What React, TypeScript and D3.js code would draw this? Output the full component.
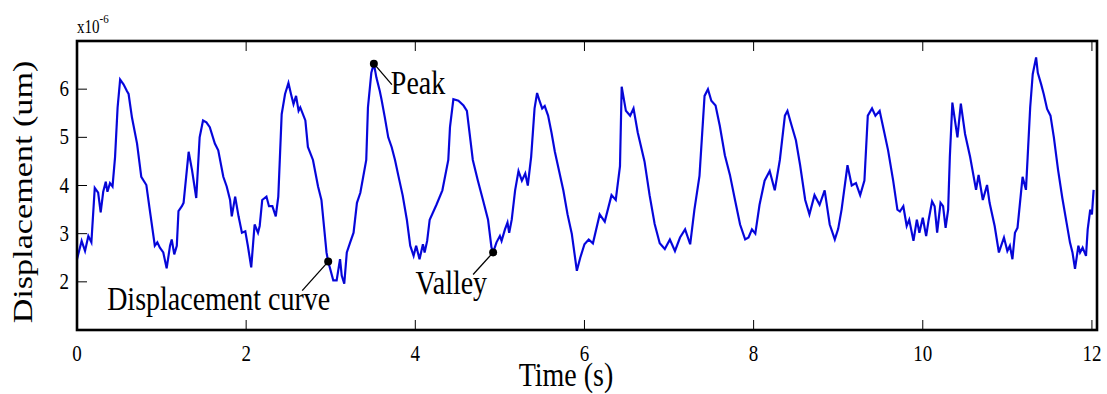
import { useRef, useEffect } from "react";
import * as d3 from "d3";

// time (s) and displacement (x10^-6 um)
const times = [
  0.0, 0.055, 0.095, 0.134, 0.17, 0.21, 0.25, 0.28, 0.31, 0.34, 0.36, 0.39, 0.42, 0.45, 0.48, 0.51, 0.55, 0.59, 0.61, 0.65,
  0.71, 0.76, 0.82, 0.86, 0.92, 0.95, 0.98, 1.02, 1.06, 1.1, 1.12, 1.15, 1.18, 1.2, 1.24, 1.26, 1.32, 1.36, 1.41, 1.45,
  1.49, 1.53, 1.57, 1.63, 1.67, 1.73, 1.77, 1.81, 1.83, 1.87, 1.91, 1.95, 1.99, 2.02, 2.06, 2.1, 2.14, 2.16, 2.19, 2.24,
  2.27, 2.31, 2.35, 2.38, 2.42, 2.46, 2.5, 2.53, 2.56, 2.59, 2.62, 2.64, 2.7, 2.73, 2.79, 2.85, 2.89, 2.95, 2.97, 3.03,
  3.07, 3.11, 3.13, 3.16, 3.19, 3.23, 3.27, 3.31, 3.35, 3.42, 3.44, 3.48, 3.51, 3.54, 3.58, 3.6, 3.64, 3.68, 3.72, 3.76,
  3.8, 3.85, 3.9, 3.94, 3.98, 4.01, 4.05, 4.09, 4.11, 4.14, 4.17, 4.25, 4.32, 4.39, 4.41, 4.45, 4.51, 4.57, 4.61, 4.68,
  4.74, 4.8, 4.86, 4.9, 4.92, 4.96, 5.0, 5.02, 5.06, 5.09, 5.11, 5.14, 5.18, 5.22, 5.26, 5.3, 5.33, 5.37, 5.41, 5.44,
  5.47, 5.5, 5.53, 5.57, 5.61, 5.65, 5.7, 5.75, 5.8, 5.85, 5.91, 5.95, 6.0, 6.05, 6.1, 6.18, 6.24, 6.32, 6.37, 6.42,
  6.44, 6.49, 6.54, 6.58, 6.63, 6.71, 6.77, 6.83, 6.89, 6.95, 7.01, 7.07, 7.13, 7.19, 7.25, 7.3, 7.36, 7.42, 7.46, 7.5,
  7.55, 7.6, 7.66, 7.72, 7.78, 7.84, 7.9, 7.94, 7.98, 8.02, 8.07, 8.13, 8.19, 8.25, 8.31, 8.37, 8.4, 8.45, 8.5, 8.55,
  8.61, 8.66, 8.72, 8.78, 8.84, 8.9, 8.96, 9.0, 9.04, 9.11, 9.16, 9.21, 9.26, 9.31, 9.35, 9.4, 9.44, 9.49, 9.54, 9.59,
  9.65, 9.7, 9.73, 9.77, 9.81, 9.84, 9.89, 9.93, 9.96, 10.0, 10.04, 10.07, 10.11, 10.14, 10.17, 10.21, 10.24, 10.27, 10.3, 10.32,
  10.35, 10.41, 10.45, 10.5, 10.56, 10.63, 10.66, 10.71, 10.76, 10.79, 10.85, 10.9, 10.96, 11.0, 11.03, 11.06, 11.09, 11.12, 11.18, 11.22,
  11.24, 11.27, 11.3, 11.34, 11.36, 11.4, 11.43, 11.47, 11.51, 11.55, 11.6, 11.65, 11.7, 11.74, 11.77, 11.8, 11.84, 11.86, 11.89, 11.93,
  11.95, 11.98, 12.0, 12.02,
];
const displacement = [
  2.47, 2.85, 2.64, 2.95, 2.82, 3.95, 3.85, 3.44, 3.87, 4.08, 3.87, 4.05, 3.98, 4.59, 5.62, 6.2, 6.1, 5.96, 5.9, 5.41,
  4.87, 4.18, 4.01, 3.5, 2.75, 2.82, 2.71, 2.61, 2.28, 2.75, 2.88, 2.57, 2.75, 3.47, 3.57, 3.64, 4.7, 4.32, 3.74, 5.0,
  5.35, 5.31, 5.21, 4.87, 4.73, 4.18, 3.98, 3.7, 3.36, 3.77, 3.36, 3.02, 3.05, 2.75, 2.3, 3.19, 3.02, 3.16, 3.7, 3.77,
  3.57, 3.57, 3.36, 3.77, 5.48, 5.9, 6.13, 5.9, 5.69, 5.86, 5.55, 5.62, 5.35, 4.8, 4.53, 3.98, 3.7, 2.61, 2.42, 2.03,
  2.03, 2.47, 2.13, 1.96, 2.61, 2.82, 3.02, 3.64, 3.85, 4.53, 5.62, 6.34, 6.53, 6.24, 5.96, 5.79, 5.41, 5.0, 4.8, 4.53,
  4.2, 3.8, 3.29, 2.75, 2.54, 2.75, 2.47, 2.78, 2.61, 2.85, 3.29, 3.6, 3.9, 4.53, 5.21, 5.79, 5.76, 5.66, 5.55, 4.53,
  4.1, 3.7, 3.29, 2.72, 2.61, 2.82, 2.95, 2.85, 3.09, 3.23, 3.02, 3.29, 3.9, 4.3, 4.1, 4.25, 4.0, 4.6, 5.6, 5.92,
  5.75, 5.6, 5.65, 5.45, 5.1, 4.7, 4.3, 3.9, 3.4, 3.0, 2.23, 2.5, 2.78, 2.88, 2.8, 3.4, 3.25, 3.8, 3.7, 4.4,
  6.05, 5.55, 5.45, 5.6, 5.1, 4.5, 3.8, 3.2, 2.8, 2.68, 2.88, 2.64, 2.92, 3.09, 2.78, 3.5, 4.2, 5.86, 6.0, 5.76,
  5.66, 5.24, 4.63, 4.22, 3.7, 3.19, 2.88, 2.92, 3.09, 3.0, 3.6, 4.1, 4.3, 3.9, 4.53, 5.45, 5.55, 5.24, 4.94, 4.42,
  3.7, 3.4, 3.8, 3.6, 3.9, 3.19, 2.88, 3.1, 3.5, 4.42, 4.0, 4.05, 3.8, 4.1, 5.45, 5.6, 5.45, 5.55, 5.14, 4.73,
  4.1, 3.5, 3.46, 3.57, 3.16, 3.29, 2.85, 3.29, 3.02, 3.33, 2.95, 3.29, 3.67, 3.57, 3.02, 3.64, 3.57, 3.12, 3.5, 4.59,
  5.72, 5.0, 5.7, 5.07, 4.59, 3.91, 4.22, 3.7, 4.01, 3.64, 3.16, 2.61, 2.92, 2.64, 2.75, 2.47, 3.02, 3.12, 4.18, 3.91,
  4.59, 5.62, 6.31, 6.66, 6.34, 6.1, 5.9, 5.59, 5.45, 5.0, 4.32, 3.74, 3.23, 2.82, 2.61, 2.27, 2.75, 2.61, 2.71, 2.54,
  3.09, 3.5, 3.4, 3.91,
];

const xTicks = [0, 2, 4, 6, 8, 10, 12];
const yTicks = [2, 3, 4, 5, 6];

const annotations = [
  { label: "Displacement curve", t: 2.97, v: 2.42 },
  { label: "Peak", t: 3.51, v: 6.53 },
  { label: "Valley", t: 4.92, v: 2.61 },
];

// leader end and text placement relative to each dot (px)
const labelLayout: Record<string, any> = {
  "Displacement curve": { lx: -26, ly: 29, tx: 2, ty: 48, anchor: "end" },
  Peak: { lx: 18, ly: 21, tx: 17, ty: 30, anchor: "start" },
  Valley: { lx: -20, ly: 22, tx: -6, ty: 42, anchor: "end" },
};

const FONT = "'Liberation Serif', 'Times New Roman', serif";
const STRETCH = 1.22; // glyphs in the picture are taller than wide

export default function App() {
  const svgRef = useRef(null);

  useEffect(() => {
    const width = 1107;
    const height = 394;
    const left = 77, right = 1097, top = 41, bottom = 330;

    const svg = d3.select(svgRef.current).attr("width", width).attr("height", height);
    svg.selectAll("*").remove();

    const x = d3.scaleLinear().domain([0, 12.06]).range([left, right]);
    const y = d3.scaleLinear().domain([1, 7]).range([bottom, top]);

    const pts = times.map((t, i) => [t, displacement[i]] as [number, number]);
    const line = d3
      .line<[number, number]>()
      .x((d) => x(d[0]))
      .y((d) => y(d[1]));

    const g = svg.append("g");

    g.append("path")
      .datum(pts)
      .attr("d", line)
      .attr("fill", "none")
      .attr("stroke", "#0a0af5")
      .attr("stroke-width", 2.2)
      .attr("stroke-linejoin", "miter");

    g.append("path")
      .datum(pts)
      .attr("d", line)
      .attr("fill", "none")
      .attr("stroke", "#000")
      .attr("stroke-opacity", 0.35)
      .attr("stroke-width", 0.6);

    // ticks (inward)
    const tickLen = 10;
    xTicks.forEach((t) => {
      g.append("line")
        .attr("x1", x(t)).attr("x2", x(t))
        .attr("y1", bottom).attr("y2", bottom - tickLen)
        .attr("stroke", "#000").attr("stroke-width", 1);
      g.append("line")
        .attr("x1", x(t)).attr("x2", x(t))
        .attr("y1", top).attr("y2", top + tickLen)
        .attr("stroke", "#000").attr("stroke-width", 1);
      g.append("text")
        .attr("transform", `translate(${x(t)},361) scale(1,${STRETCH})`)
        .attr("text-anchor", "middle")
        .attr("font-family", FONT)
        .attr("font-size", 19)
        .text(t);
    });

    yTicks.forEach((v) => {
      g.append("line")
        .attr("x1", left).attr("x2", left + tickLen)
        .attr("y1", y(v)).attr("y2", y(v))
        .attr("stroke", "#000").attr("stroke-width", 1);
      g.append("text")
        .attr("transform", `translate(69,${y(v) + 7}) scale(1,${STRETCH})`)
        .attr("text-anchor", "end")
        .attr("font-family", FONT)
        .attr("font-size", 19)
        .text(v);
    });

    // frame
    g.append("rect")
      .attr("x", left).attr("y", top)
      .attr("width", right - left).attr("height", bottom - top)
      .attr("fill", "none")
      .attr("stroke", "#000")
      .attr("stroke-width", 2.6);

    // exponent
    const exp = g.append("text")
      .attr("transform", `translate(77,33) scale(1,${STRETCH})`)
      .attr("font-family", FONT)
      .attr("font-size", 15);
    exp.append("tspan").text("x10");
    exp.append("tspan").attr("dy", -8).attr("font-size", 11).text("-6");

    // axis labels
    g.append("text")
      .attr("transform", `translate(566,386) scale(1,${STRETCH})`)
      .attr("text-anchor", "middle")
      .attr("font-family", FONT)
      .attr("font-size", 28)
      .text("Time (s)");

    g.append("text")
      .attr("transform", `translate(32,192) scale(1,${STRETCH}) rotate(-90)`)
      .attr("text-anchor", "middle")
      .attr("font-family", FONT)
      .attr("font-size", 28)
      .text("Displacement (um)");

    // annotations
    annotations.forEach((a) => {
      const cx = x(a.t), cy = y(a.v);
      const L = labelLayout[a.label];
      g.append("line")
        .attr("x1", cx).attr("y1", cy)
        .attr("x2", cx + L.lx).attr("y2", cy + L.ly)
        .attr("stroke", "#000").attr("stroke-width", 1.3);
      g.append("circle")
        .attr("cx", cx).attr("cy", cy).attr("r", 4)
        .attr("fill", "#000");
      g.append("text")
        .attr("transform", `translate(${cx + L.tx},${cy + L.ty}) scale(1,${STRETCH})`)
        .attr("text-anchor", L.anchor)
        .attr("font-family", FONT)
        .attr("font-size", 28)
        .text(a.label);
    });
  }, []);

  return (
    <svg ref={svgRef} style={{ position: "absolute", left: 0, top: 0, background: "#fff" }}></svg>
  );
}
